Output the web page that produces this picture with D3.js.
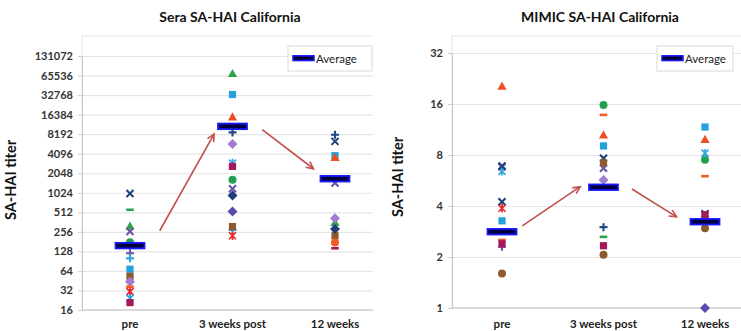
<!DOCTYPE html>
<html>
<head>
<meta charset="utf-8">
<script src="https://cdn.jsdelivr.net/npm/d3@7"></script>
<style>
  body { margin: 0; background: #fff; }
  svg { display: block; }
  text { font-family: Lato, "Open Sans", sans-serif; }
</style>
</head>
<body>
<svg id="chart" width="741" height="331"></svg>
<script>
// ---- data -------------------------------------------------------------
const categories = ["pre", "3 weeks post", "12 weeks"];

// one entry per subject: marker shape and colour
const subjectShapes = [
  "x", "dash", "triangle", "x", "circle", "plus", "plus", "square",
  "square", "diamond", "dash", "star", "star", "square", "triangle",
  "plus", "diamond", "diamond", "circle", "dash", "circle", "x"
];
const subjectColors = [
  "#1f4179", "#2ea34c", "#2ea34c", "#6a52aa", "#22a04e", "#6a56ab", "#2fa6dd", "#22a1dc",
  "#8c5a2c", "#a27bd3", "#f15a24", "#ee2229", "#2fa6dd", "#a3195b", "#f04e23",
  "#1f4885", "#1f3d78", "#5a4aae", "#f05a24", "#a3195b", "#8c5a2c", "#1f4179"
];

// Sera titers per subject (pre, 3 weeks post, 12 weeks); null = no point
const seraValues = [
  [1000, null, 6340],     // navy x
  [560, null, null],      // green dash
  [315, 70400, 357],      // green triangle
  [259, 1180, 1450],      // purple x
  [177, 1630, null],      // green circle
  [120, null, null],      // purple plus
  [100, 274, null],       // light blue plus
  [68, 33400, 3820],      // light blue square
  [53, 309, 223],         // brown square
  [43.7, 5790, 416],      // lilac diamond
  [36.6, null, null],     // orange dash
  [30.6, 223, null],      // red star
  [24.2, 2940, null],     // light blue star
  [20.8, 2610, null],     // crimson square
  [null, 15070, 3590],    // orange triangle
  [null, 8720, 8040],     // navy plus
  [null, 930, 282],       // navy diamond
  [null, 527, null],      // slate diamond
  [null, null, 176],      // orange circle
  [null, null, 143],      // crimson dash
  [null, null, null],     // brown circle
  [null, null, null]      // second navy x
];
const seraAverage = [157, 10800, 1685];

// MIMIC titers per subject
const mimicValues = [
  [4.24, 7.65, 3.6],      // navy x
  [null, 2.63, null],     // green dash
  [null, null, null],     // green triangle
  [6.8, 6.68, null],      // purple x
  [null, 15.8, 7.5],      // green circle
  [2.3, null, null],      // purple plus
  [null, null, null],     // light blue plus
  [3.27, 9.05, 11.7],     // light blue square
  [null, 7.2, null],      // brown square
  [null, 5.7, null],      // lilac diamond
  [2.52, 13.8, 6.0],      // orange dash
  [3.88, null, 3.5],      // red star
  [6.4, null, 8.2],       // light blue star
  [2.39, 2.33, 3.55],     // crimson square
  [20.4, 10.5, 9.9],      // orange triangle
  [null, 3.0, null],      // navy plus
  [null, null, null],     // navy diamond
  [null, null, 1.0],      // slate diamond
  [null, null, null],     // orange circle
  [null, null, null],     // crimson dash
  [1.6, 2.06, 2.96],      // brown circle
  [6.9, null, null]       // second navy x
];
const mimicAverage = [2.82, 5.16, 3.23];

const seraTicks = [16, 32, 64, 128, 256, 512, 1024, 2048, 4096, 8192, 16384, 32768, 65536, 131072];
const mimicTicks = [1, 2, 4, 8, 16, 32];

// trend arrows: [category position, titer] start and end
const seraArrows = [
  [[0.29, 266], [0.82, 8200]],
  [[1.29, 9600], [1.79, 2400]]
];
const mimicArrows = [
  [[0.2, 3.05], [0.77, 5.2]],
  [[1.28, 5.04], [1.72, 3.45]]
];

// ---- drawing ----------------------------------------------------------
const svg = d3.select("#chart");
const defs = svg.append("defs");
defs.append("clipPath").attr("id", "clipLeft")
  .append("rect").attr("x", 0).attr("y", 0).attr("width", 373).attr("height", 331);

function drawMarker(g, shape, color, cx, cy) {
  const m = g.append("g").attr("transform", `translate(${cx},${cy})`);
  switch (shape) {
    case "diamond":
      m.append("path").attr("d", "M0,-5L5,0L0,5L-5,0Z").attr("fill", color); break;
    case "square":
      m.append("rect").attr("x", -3.6).attr("y", -3.6).attr("width", 7.2).attr("height", 7.2).attr("fill", color); break;
    case "triangle":
      m.append("path").attr("d", "M0,-4.6L4.6,3.6L-4.6,3.6Z").attr("fill", color); break;
    case "circle":
      m.append("circle").attr("r", 4).attr("fill", color); break;
    case "x":
      m.append("path").attr("d", "M-3.5,-3.5L3.5,3.5M3.5,-3.5L-3.5,3.5")
        .attr("stroke", color).attr("stroke-width", 2.1).attr("fill", "none"); break;
    case "plus":
      m.append("path").attr("d", "M-4,0H4M0,-4V4")
        .attr("stroke", color).attr("stroke-width", 2.1).attr("fill", "none"); break;
    case "star":
      m.append("path").attr("d", "M-3.5,-3.5L3.5,3.5M3.5,-3.5L-3.5,3.5M0,-4.2V4.2")
        .attr("stroke", color).attr("stroke-width", 1.7).attr("fill", "none"); break;
    case "dash":
      m.append("rect").attr("x", -3.8).attr("y", -1.3).attr("width", 7.6).attr("height", 2.6).attr("fill", color); break;
  }
}

function drawPanel(cfg) {
  const g = svg.append("g");
  if (cfg.clip) g.attr("clip-path", `url(#${cfg.clip})`);

  const y = d3.scaleLog().base(2).domain(cfg.yDomain).range(cfg.yRange);
  const x = d3.scalePoint().domain(categories).range(cfg.xRange);
  const step = x.step();
  const xAt = p => cfg.xRange[0] + p * step;

  // plot frame
  g.append("rect")
    .attr("x", cfg.left).attr("y", cfg.top)
    .attr("width", cfg.right - cfg.left).attr("height", cfg.bottom - cfg.top)
    .attr("fill", "#fff").attr("stroke", "#e3e3e3").attr("stroke-width", 1);

  // gridlines
  const grid = g.append("g").attr("transform", `translate(${cfg.left},0)`)
    .call(d3.axisLeft(y).tickValues(cfg.ticks).tickSize(-(cfg.right - cfg.left)).tickFormat(""));
  grid.select(".domain").remove();
  grid.selectAll("line").attr("stroke", "#e6e6e6").attr("stroke-width", 1.2);

  // value axis
  const ax = g.append("g").attr("transform", `translate(${cfg.left},0)`)
    .call(d3.axisLeft(y).tickValues(cfg.ticks).tickSize(4).tickPadding(5).tickFormat(d => d));
  ax.select(".domain").attr("stroke", "#c8c8c8");
  ax.selectAll(".tick line").attr("stroke", "#d0d0d0");
  ax.selectAll("text").attr("font-size", 11).attr("font-weight", 700).attr("fill", "#333");

  // category axis line and labels
  g.append("line").attr("x1", cfg.left).attr("x2", cfg.right)
    .attr("y1", cfg.bottom).attr("y2", cfg.bottom).attr("stroke", "#c8c8c8");
  g.selectAll(".cat").data(categories).join("text")
    .attr("x", d => x(d)).attr("y", 328)
    .attr("text-anchor", "middle").attr("font-size", 11.5).attr("font-weight", 700).attr("fill", "#222")
    .text(d => d);

  // title and axis title
  g.append("text").attr("x", cfg.titleX).attr("y", 22)
    .attr("text-anchor", "middle").attr("font-size", 14).attr("font-weight", 700).attr("fill", "#111")
    .text(cfg.title);
  g.append("text")
    .attr("transform", `translate(${cfg.yTitleX},${cfg.yTitleY}) rotate(-90)`)
    .attr("text-anchor", "middle").attr("font-size", 14.5).attr("font-weight", 700).attr("fill", "#111")
    .text("SA-HAI titer");

  // arrows
  const arrowColor = "#c0504d";
  cfg.arrows.forEach(([a, b]) => {
    const x0 = xAt(a[0]), y0 = y(a[1]), x1 = xAt(b[0]), y1 = y(b[1]);
    const ang = Math.atan2(y1 - y0, x1 - x0);
    const h = 8, w = 0.45;
    g.append("line").attr("x1", x0).attr("y1", y0).attr("x2", x1).attr("y2", y1)
      .attr("stroke", arrowColor).attr("stroke-width", 1.6);
    g.append("path")
      .attr("d", `M${x1 - h * Math.cos(ang - w)},${y1 - h * Math.sin(ang - w)}L${x1},${y1}L${x1 - h * Math.cos(ang + w)},${y1 - h * Math.sin(ang + w)}`)
      .attr("stroke", arrowColor).attr("stroke-width", 1.6).attr("fill", "none")
      .attr("stroke-linejoin", "miter");
  });

  // subject markers
  const pts = g.append("g");
  cfg.values.forEach((vals, i) => {
    vals.forEach((v, j) => {
      if (v == null) return;
      drawMarker(pts, subjectShapes[i], subjectColors[i], x(categories[j]), y(v));
    });
  });

  // average bars
  g.selectAll(".avg").data(cfg.average).join("rect")
    .attr("x", (d, j) => x(categories[j]) - 14.5).attr("y", d => y(d) - 2.8)
    .attr("width", 29).attr("height", 5.6)
    .attr("fill", "#000040").attr("stroke", "#1a1aff").attr("stroke-width", 1.8);

  // legend
  const lg = g.append("g").attr("transform", `translate(${cfg.legendX},46)`);
  lg.append("rect").attr("x", 0).attr("y", 0).attr("width", cfg.legendW).attr("height", 25)
    .attr("fill", "#fff").attr("stroke", "#d9d9d9");
  lg.append("rect").attr("x", 5).attr("y", 9.8).attr("width", 21).attr("height", 4.8)
    .attr("fill", "#000040").attr("stroke", "#1a1aff").attr("stroke-width", 1.5);
  lg.append("text").attr("x", 28).attr("y", 16.5).attr("font-size", 11.5).attr("fill", "#222")
    .text("Average");
}

drawPanel({
  clip: "clipLeft",
  left: 82, right: 420, top: 36, bottom: 310,
  yDomain: [16, 131072], yRange: [310, 56], ticks: seraTicks,
  xRange: [130, 335],
  title: "Sera SA-HAI California", titleX: 230,
  yTitleX: 16, yTitleY: 180,
  values: seraValues, average: seraAverage, arrows: seraArrows,
  legendX: 288, legendW: 84
});

drawPanel({
  left: 452, right: 760, top: 36, bottom: 308,
  yDomain: [1, 32], yRange: [308, 53], ticks: mimicTicks,
  xRange: [502, 705],
  title: "MIMIC SA-HAI California", titleX: 600,
  yTitleX: 403, yTitleY: 177,
  values: mimicValues, average: mimicAverage, arrows: mimicArrows,
  legendX: 657, legendW: 76
});
</script>
</body>
</html>
